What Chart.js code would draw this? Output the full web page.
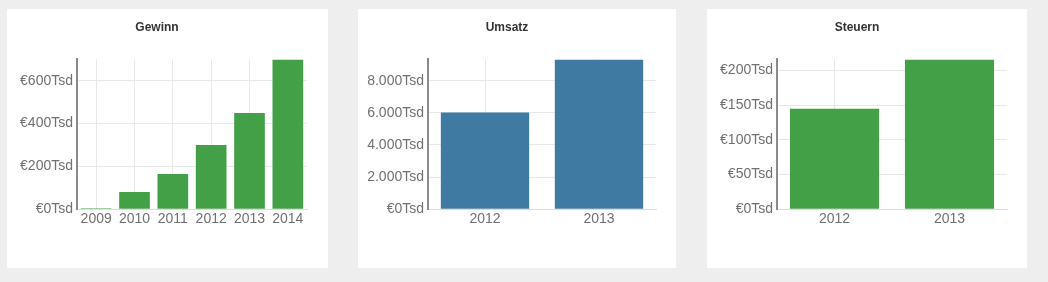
<!DOCTYPE html>
<html>
<head>
<meta charset="utf-8">
<script src="https://cdn.jsdelivr.net/npm/chart.js@4"></script>
<style>
    body { margin: 0; background: #eeeeee; width: 1048px; height: 282px; overflow: hidden; }
    .card { position: absolute; top: 9px; height: 259px; background: #fff; }
    .card canvas { position: absolute; left: 0; top: 0; }
</style>
</head>
<body>
<div class="card" style="left:7px;width:321px"><canvas id="gewinn" width="321" height="259"></canvas></div>
<div class="card" style="left:358px;width:318px"><canvas id="umsatz" width="318" height="259"></canvas></div>
<div class="card" style="left:707px;width:320px"><canvas id="steuern" width="320" height="259"></canvas></div>
<script>
// values in thousand euro
const gewinnYears = ['2009', '2010', '2011', '2012', '2013', '2014'];
const gewinnValues = [5, 80, 165, 300, 450, 700];
const gewinnTickValues = [0, 200, 400, 600];
const gewinnTickLabels = ['€0Tsd', '€200Tsd', '€400Tsd', '€600Tsd'];

const umsatzYears = ['2012', '2013'];
const umsatzValues = [6030, 9330];
const umsatzTickValues = [0, 2000, 4000, 6000, 8000];
const umsatzTickLabels = ['€0Tsd', '2.000Tsd', '4.000Tsd', '6.000Tsd', '8.000Tsd'];

const steuernYears = ['2012', '2013'];
const steuernValues = [145, 216];
const steuernTickValues = [0, 50, 100, 150, 200];
const steuernTickLabels = ['€0Tsd', '€50Tsd', '€100Tsd', '€150Tsd', '€200Tsd'];

const green = '#43a046';
const blue = '#3f7aa2';

function createChart(id, title, labels, values, tickValues, tickLabels, fill, barPct, padRight) {
    return new Chart(document.getElementById(id), {
        type: 'bar',
        data: {
            labels: labels,
            datasets: [{
                data: values,
                backgroundColor: fill,
                borderWidth: 0,
                categoryPercentage: 1,
                barPercentage: barPct
            }]
        },
        options: {
            responsive: false,
            animation: false,
            layout: {
                padding: { left: 0, right: padRight, top: 0, bottom: 38 }
            },
            scales: {
                x: {
                    grid: { offset: false, color: '#e8e8e8', drawTicks: false },
                    border: { color: '#dddddd' },
                    ticks: {
                        color: '#707070',
                        padding: 2,
                        font: { family: 'Liberation Sans, Arial', size: 14 }
                    }
                },
                y: {
                    min: 0,
                    max: Math.max(...values),
                    afterFit: scale => { scale.width = 70; },
                    afterBuildTicks: scale => {
                        scale.ticks = tickValues.map(v => ({ value: v }));
                    },
                    grid: { color: '#e8e8e8', drawTicks: false },
                    border: { color: '#8a8a8a', width: 2 },
                    ticks: {
                        color: '#707070',
                        padding: 4,
                        font: { family: 'Liberation Sans, Arial', size: 14 },
                        callback: (value, index) => tickLabels[index]
                    }
                }
            },
            plugins: {
                legend: { display: false },
                tooltip: { enabled: false },
                title: {
                    display: true,
                    text: title,
                    color: '#333',
                    font: { family: 'Liberation Sans, Arial', size: 12, weight: 'bold' },
                    padding: { top: 11, bottom: 25 }
                }
            }
        }
    });
}

createChart('gewinn', 'Gewinn', gewinnYears, gewinnValues, gewinnTickValues, gewinnTickLabels, green, 0.8, 21);
createChart('umsatz', 'Umsatz', umsatzYears, umsatzValues, umsatzTickValues, umsatzTickLabels, blue, 0.775, 20);
createChart('steuern', 'Steuern', steuernYears, steuernValues, steuernTickValues, steuernTickLabels, green, 0.775, 20);
</script>
</body>
</html>
